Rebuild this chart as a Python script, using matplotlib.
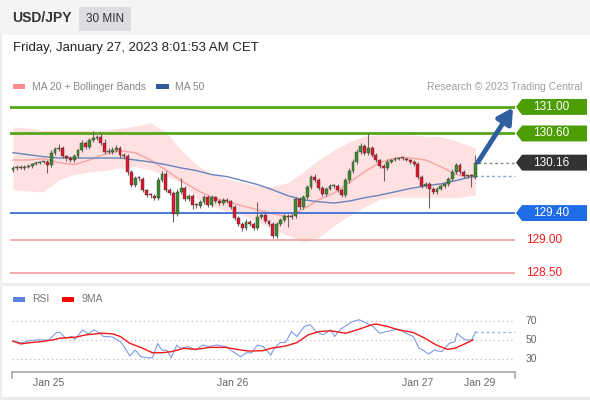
import matplotlib
matplotlib.use('Agg')
import matplotlib.pyplot as plt
from matplotlib.patches import Rectangle, Polygon
from matplotlib.transforms import blended_transform_factory

plt.rcParams['font.family'] = ['Liberation Sans', 'DejaVu Sans']

# ---- data (30 min USD/JPY candles) ----
first_open = 130.05
closes = [
    130.08, 130.10, 130.08, 130.10, 130.11, 130.14, 130.16, 130.17, 130.17, 130.13,
    130.31, 130.37, 130.38, 130.26, 130.23, 130.20, 130.26, 130.35, 130.46, 130.40,
    130.50, 130.53, 130.55, 130.46, 130.32, 130.32, 130.35, 130.38, 130.28, 130.26,
    130.02, 129.83, 129.93, 129.92, 129.75, 129.67, 129.66, 129.63, 129.90, 129.99,
    129.75, 129.70, 129.39, 129.72, 129.78, 129.61, 129.66, 129.52, 129.51, 129.57,
    129.64, 129.52, 129.64, 129.58, 129.55, 129.60, 129.58, 129.49, 129.33, 129.24,
    129.18, 129.27, 129.24, 129.18, 129.34, 129.37, 129.28, 129.24, 129.06, 129.24,
    129.30, 129.36, 129.34, 129.36, 129.61, 129.49, 129.64, 129.80, 129.95, 129.90,
    129.78, 129.69, 129.77, 129.81, 129.81, 129.75, 129.67, 129.90, 130.04, 130.17,
    130.32, 130.41, 130.31, 130.38, 130.28, 130.20, 130.11, 130.08, 130.17, 130.20,
    130.22, 130.23, 130.22, 130.20, 130.17, 130.14, 129.95, 129.81, 129.84, 129.77,
    129.72, 129.77, 129.81, 129.84, 129.92, 130.02, 130.13, 130.02, 129.96, 129.96,
    129.95, 130.16,
]
wick_up = [
    0.03, 0.02, 0.03, 0.02, 0.03, 0.02, 0.03, 0.02, 0.02, 0.03,
    0.04, 0.03, 0.06, 0.03, 0.02, 0.03, 0.03, 0.02, 0.04, 0.03,
    0.03, 0.10, 0.03, 0.05, 0.06, 0.06, 0.05, 0.04, 0.03, 0.03,
    0.03, 0.03, 0.03, 0.03, 0.03, 0.02, 0.03, 0.03, 0.04, 0.05,
    0.05, 0.03, 0.03, 0.04, 0.15, 0.03, 0.03, 0.03, 0.02, 0.03,
    0.03, 0.03, 0.03, 0.02, 0.03, 0.02, 0.03, 0.02, 0.03, 0.03,
    0.03, 0.04, 0.03, 0.03, 0.23, 0.03, 0.03, 0.02, 0.03, 0.03,
    0.03, 0.03, 0.03, 0.03, 0.03, 0.03, 0.03, 0.03, 0.03, 0.04,
    0.03, 0.03, 0.03, 0.03, 0.03, 0.03, 0.03, 0.03, 0.04, 0.05,
    0.04, 0.05, 0.03, 0.23, 0.03, 0.03, 0.02, 0.03, 0.04, 0.02,
    0.02, 0.02, 0.02, 0.02, 0.02, 0.03, 0.03, 0.03, 0.03, 0.03,
    0.03, 0.03, 0.03, 0.03, 0.03, 0.04, 0.03, 0.03, 0.03, 0.02,
    0.03, 0.12,
]
wick_dn = [
    0.03, 0.03, 0.02, 0.03, 0.02, 0.03, 0.02, 0.02, 0.02, 0.13,
    0.03, 0.03, 0.03, 0.03, 0.04, 0.03, 0.03, 0.03, 0.03, 0.04,
    0.03, 0.03, 0.03, 0.03, 0.03, 0.03, 0.03, 0.03, 0.05, 0.03,
    0.04, 0.03, 0.03, 0.03, 0.03, 0.03, 0.03, 0.03, 0.03, 0.03,
    0.03, 0.03, 0.12, 0.03, 0.03, 0.03, 0.03, 0.06, 0.03, 0.03,
    0.03, 0.03, 0.03, 0.03, 0.03, 0.03, 0.03, 0.03, 0.03, 0.03,
    0.05, 0.03, 0.03, 0.04, 0.03, 0.03, 0.03, 0.03, 0.04, 0.03,
    0.03, 0.03, 0.15, 0.03, 0.03, 0.03, 0.03, 0.03, 0.03, 0.03,
    0.03, 0.03, 0.03, 0.03, 0.03, 0.03, 0.03, 0.03, 0.05, 0.03,
    0.03, 0.03, 0.03, 0.03, 0.03, 0.03, 0.03, 0.20, 0.03, 0.02,
    0.02, 0.02, 0.02, 0.02, 0.03, 0.03, 0.03, 0.03, 0.03, 0.29,
    0.03, 0.03, 0.03, 0.03, 0.03, 0.03, 0.03, 0.03, 0.03, 0.03,
    0.15, 0.03,
]

# moving averages / bands sampled every 4 candles
band_idx = [0, 4, 8, 12, 16, 20, 24, 28, 32, 36, 40, 44, 48, 52, 56, 60,
            64, 68, 72, 76, 80, 84, 88, 92, 96, 100, 104, 108, 112, 116, 121]
ma20 = [130.20, 130.20, 130.22, 130.16, 130.13, 130.20, 130.29, 130.34, 130.31, 130.20,
        130.05, 129.89, 129.75, 129.64, 129.57, 129.51, 129.45, 129.39, 129.34, 129.46,
        129.60, 129.70, 129.86, 130.02, 130.16, 130.23, 130.23, 130.20, 130.10, 129.98,
        129.93]
ma50 = [130.31, 130.28, 130.25, 130.23, 130.23, 130.23, 130.23, 130.23, 130.20, 130.17,
        130.13, 130.08, 130.04, 129.98, 129.95, 129.89, 129.83, 129.75, 129.66, 129.60,
        129.57, 129.55, 129.58, 129.63, 129.67, 129.72, 129.77, 129.81, 129.84, 129.89,
        129.96]
bb_upper = [130.70, 130.68, 130.65, 130.65, 130.65, 130.65, 130.65, 130.68, 130.71, 130.76,
            130.62, 130.35, 130.13, 129.99, 129.92, 129.86, 129.81, 129.80, 129.86, 130.02,
            130.20, 130.35, 130.47, 130.56, 130.58, 130.58, 130.58, 130.56, 130.55, 130.49,
            130.38]
bb_lower = [129.75, 129.73, 129.72, 129.90, 129.98, 130.02, 130.04, 130.08, 130.10, 130.05,
            129.96, 129.86, 129.63, 129.51, 129.43, 129.37, 129.27, 129.16, 129.06, 128.97,
            129.03, 129.21, 129.36, 129.49, 129.61, 129.64, 129.64, 129.64, 129.63, 129.63,
            129.67]

rsi_idx = [0.0, 2.5, 4.5, 6.4, 9.4, 11.4, 12.3, 13.8, 15.3, 16.3, 18.2, 19.7, 21.2, 22.7,
           23.7, 25.1, 26.1, 28.1, 29.1, 30.6, 32.0, 33.5, 35.0, 36.5, 37.9, 38.9, 40.4,
           41.4, 42.9, 43.8, 45.8, 47.8, 49.7, 51.2, 53.2, 55.7, 57.6, 59.6, 61.1, 62.5,
           64.0, 65.5, 67.5, 68.4, 69.9, 71.4, 72.9, 74.3, 76.3, 77.8, 79.3, 81.2, 83.2,
           84.2, 85.7, 87.6, 88.6, 90.6, 92.5, 94.0, 96.0, 99.0, 100.9, 102.9, 104.8,
           106.3, 107.3, 108.8, 110.3, 112.2, 114.2, 115.7, 116.2, 117.7, 118.6, 120.1,
           121.1]
rsi_val = [48.2, 47.1, 49.3, 50.0, 50.0, 57.9, 57.9, 51.8, 53.6, 50.7, 60.7, 56.4, 60.7,
           57.1, 53.6, 53.6, 52.9, 48.2, 42.9, 32.9, 39.3, 32.1, 31.1, 31.1, 46.4, 39.3,
           38.6, 31.1, 44.6, 41.1, 42.9, 39.3, 44.6, 42.9, 44.6, 42.9, 37.5, 32.1, 36.4,
           36.4, 44.6, 42.9, 33.9, 41.1, 47.1, 47.5, 58.9, 53.6, 64.3, 66.1, 58.9, 55.4,
           60.7, 53.6, 61.4, 66.1, 68.9, 71.4, 67.9, 65.0, 57.1, 60.0, 61.4, 57.1, 53.6,
           41.1, 39.3, 35.0, 39.3, 37.5, 46.4, 48.2, 57.1, 51.8, 50.0, 50.0, 58.9]
rsi_ma_idx = [0.0, 2.0, 4.5, 7.4, 10.4, 12.3, 16.3, 19.2, 23.2, 26.1, 28.1, 30.6, 34.0,
              36.5, 38.9, 41.4, 44.8, 47.8, 51.7, 55.7, 58.6, 61.6, 65.5, 67.5, 71.4,
              74.3, 77.3, 80.2, 83.2, 87.1, 90.1, 94.0, 95.0, 98.0, 100.9, 104.8, 107.8,
              110.8, 113.7, 115.7, 118.6, 120.4]
rsi_ma_val = [48.9, 45.7, 47.1, 48.2, 50.0, 51.8, 52.9, 55.4, 57.1, 56.4, 53.6, 46.4, 41.1,
              36.4, 36.4, 37.5, 41.1, 40.0, 42.1, 42.1, 40.0, 38.2, 38.6, 41.1, 43.6, 47.1,
              55.4, 58.9, 59.6, 57.1, 60.7, 66.1, 66.8, 64.3, 60.7, 57.9, 51.8, 44.6, 40.0,
              41.1, 46.4, 50.0]
rsi_levels = [70, 50, 30]

levels = [131.00, 130.60, 129.40, 129.00, 128.50]
level_kind = ['res', 'res', 'piv', 'sup', 'sup']
last_price = 130.16
day_ticks = [9.3, 57.5, 106.0, 122.3]
day_labels = ['Jan 25', 'Jan 26', 'Jan 27', 'Jan 29']

# ---- layout helpers (figure pixels) ----
W, H = 590, 400


def px2i(x):
    return (x - 13) / 3.82


def fig_rect(x0, x1, y0, y1):
    return [x0 / W, 1 - y1 / H, (x1 - x0) / W, (y1 - y0) / H]


fig = plt.figure(figsize=(W / 100, H / 100), dpi=100)
bg = fig.add_axes([0, 0, 1, 1], zorder=0)
bg.set_xlim(0, W)
bg.set_ylim(H, 0)
bg.axis('off')

# header
bg.add_patch(Rectangle((0, 0), W, 35, color='#f4f4f5', lw=0))
bg.text(12, 18, 'USD/JPY', fontsize=10, fontweight='bold', color='#333333', va='center')
bg.add_patch(Rectangle((79, 7), 52, 24, color='#dcdde1', lw=0))
bg.text(105, 19, '30 MIN', fontsize=8.5, color='#333333', ha='center', va='center')
bg.text(13, 48, 'Friday, January 27, 2023 8:01:53 AM CET', fontsize=9.5,
        color='#222222', va='center')

# legends
bg.add_patch(Rectangle((13, 84), 12, 5, color='#ff8c8c', lw=0))
bg.text(32, 86.5, 'MA 20 + Bollinger Bands', fontsize=7.5, color='#888888', va='center')
bg.add_patch(Rectangle((156, 84), 13, 5, color='#34589c', lw=0))
bg.text(175, 86.5, 'MA 50', fontsize=7.5, color='#888888', va='center')
bg.text(582, 86.5, 'Research \u00a9 2023 Trading Central', fontsize=7.5,
        color='#a0a0a0', va='center', ha='right')
bg.add_patch(Rectangle((13, 297), 12, 5, color='#5b82e0', lw=0))
bg.text(32, 299.5, 'RSI', fontsize=7.5, color='#777777', va='center')
bg.add_patch(Rectangle((62, 297), 12, 5, color='#ff0000', lw=0))
bg.text(82, 299.5, '9MA', fontsize=7.5, color='#777777', va='center')

bg.plot([0, W], [284, 284], color='#eaeaea', lw=2)
bg.plot([0, W], [398, 398], color='#eaeaea', lw=2)
bg.plot([1, 1], [35, 398], color='#eeeeee', lw=1.5)

# ---- price panel ----
ax = fig.add_axes(fig_rect(10, 515, 95, 282), zorder=1)
ax.patch.set_alpha(0)
ax.axis('off')
ax.set_xlim(px2i(10), px2i(515))
ax.set_ylim(128.36, 131.18)
tr = blended_transform_factory(bg.transData, ax.transData)

ax.fill_between(band_idx, bb_lower, bb_upper, color='#ffe1e1', lw=0, zorder=1)
ax.plot(band_idx, ma20, color='#f7a3a3', lw=1.0, zorder=2)
ax.plot(band_idx, ma50, color='#6784bd', lw=1.0, zorder=2)

opens = [first_open] + closes[:-1]
for i, (o, c) in enumerate(zip(opens, closes)):
    top, bot = max(o, c), min(o, c)
    ax.vlines(i, bot - wick_dn[i], top + wick_up[i], color='#6e6262', lw=0.8, zorder=3)
    h = c - o
    if abs(h) < 0.012:
        h = 0.012
    col = '#3b8c2c' if c >= o else '#e0142c'
    ax.bar(i, h, bottom=o, width=0.75, color=col, edgecolor='#3a3a3a', lw=0.3, zorder=4)

styles = {'res': ('#56a61c', 2.0), 'piv': ('#3d6fd6', 1.3), 'sup': ('#f5a6a6', 1.3)}
for lv, kind in zip(levels, level_kind):
    col, lw = styles[kind]
    ax.axhline(lv, color=col, lw=lw, zorder=2)

ax.plot([478, 515], [last_price, last_price], transform=tr, color='#888888',
        lw=1, ls=(0, (2, 2)), clip_on=False, zorder=2)
ax.plot([475, 515], [ma50[-1], ma50[-1]], transform=tr, color='#8aa3d8',
        lw=1, ls=(0, (2, 2)), clip_on=False, zorder=2)

# price tags
tag_levels = [131.00, 130.60, last_price, 129.40]
tag_colors = ['#4c9e04', '#4c9e04', '#333333', '#1f6ee8']
half = 0.12
for lv, col in zip(tag_levels, tag_colors):
    poly = Polygon([(516, lv), (522, lv + half), (587, lv + half), (587, lv - half),
                    (522, lv - half)], closed=True, transform=tr, color=col,
                   lw=0, clip_on=False, zorder=5)
    ax.add_patch(poly)
    ax.text(551, lv, f'{lv:.2f}', transform=tr, color='white', fontsize=8.5,
            ha='center', va='center', clip_on=False, zorder=6)
for lv in [129.00, 128.50]:
    ax.text(544, lv, f'{lv:.2f}', transform=tr, color='#f01c1c', fontsize=8.5,
            ha='center', va='center', clip_on=False, zorder=6)

ax.annotate('', xy=(513, 130.99), xytext=(478, 130.17), xycoords=tr, textcoords=tr,
            arrowprops=dict(arrowstyle='-|>,head_length=0.9,head_width=0.5',
                            lw=3.5, color='#2f5f9f', shrinkA=0, shrinkB=0),
            annotation_clip=False, zorder=6)

# ---- RSI panel ----
ax2 = fig.add_axes(fig_rect(10, 515, 305, 372), zorder=1)
ax2.patch.set_alpha(0)
ax2.axis('off')
ax2.set_xlim(px2i(10), px2i(515))
ax2.set_ylim(16, 87)
tr2 = blended_transform_factory(bg.transData, ax2.transData)
for lv in rsi_levels:
    ax2.plot([12, 515], [lv, lv], transform=tr2, color='#bdbdbd', lw=0.9,
             ls=(0, (1, 2.5)), clip_on=False)
    ax2.text(531, lv, str(lv), transform=tr2, color='#666666', fontsize=7.5,
             ha='center', va='center', clip_on=False)
ax2.plot(rsi_idx, rsi_val, color='#7d9be6', lw=0.8, zorder=3)
ax2.plot(rsi_ma_idx, rsi_ma_val, color='#f21818', lw=1.0, zorder=4)
ax2.plot([475, 515], [rsi_val[-1], rsi_val[-1]], transform=tr2, color='#9fb5ec',
         lw=1, ls=(0, (2, 2)), clip_on=False)

# time axis
bg.plot([12, 515], [372, 372], color='#aaaaaa', lw=1.2)
bg.plot([12, 12], [372, 378], color='#aaaaaa', lw=1.2)
bg.plot([515, 515], [372, 378], color='#aaaaaa', lw=1.2)
trx = blended_transform_factory(ax2.transData, bg.transData)
for t, lab in zip(day_ticks, day_labels):
    bg.text(t, 383, lab, transform=trx, color='#666666', fontsize=7.5,
            ha='center', va='center')

fig.savefig('out.png', dpi=100)
